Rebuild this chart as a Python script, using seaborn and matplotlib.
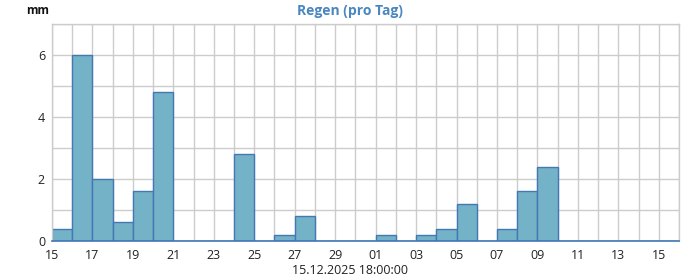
import matplotlib
matplotlib.use("Agg")
import matplotlib.pyplot as plt
import seaborn as sns
import pandas as pd
import numpy as np

days = ["15","16","17","18","19","20","21","22","23","24","25","26","27","28","29","30",
        "01","02","03","04","05","06","07","08","09","10","11","12","13","14","15"]
rain = [0.4, 6.0, 2.0, 0.6, 1.6, 4.8, 0.0, 0.0, 0.0, 2.8, 0.0, 0.2, 0.8, 0.0, 0.0, 0.0,
        0.2, 0.0, 0.2, 0.4, 1.2, 0.0, 0.4, 1.6, 2.4, 0.0, 0.0, 0.0, 0.0, 0.0, 0.0]
title = "Regen (pro Tag)"
unit = "mm"
date_label = "15.12.2025 18:00:00"

sns.set_style("white")
plt.rcParams['font.family'] = ['Open Sans', 'DejaVu Sans']

df = pd.DataFrame({"idx": np.arange(len(days)) + 0.5, "rain": rain})

fig = plt.figure(figsize=(7, 2.8), dpi=100)
ax = fig.add_axes([52/700, 39/280, 627/700, 217/280])

sns.histplot(data=df, x="idx", weights="rain", bins=len(days), binrange=(0, len(days)),
             color="#74b2c7", edgecolor="#4278b4", linewidth=1.0, alpha=1.0, ax=ax)

ax.set_xlim(0, len(days))
ax.set_ylim(0, 7)
ax.set_xticks(np.arange(0, len(days), 2))
ax.set_xticklabels([days[i] for i in range(0, len(days), 2)])
ax.set_xticks(np.arange(0, len(days) + 1), minor=True)
ax.set_yticks([0, 2, 4, 6])
ax.set_yticks(np.arange(0, 8), minor=True)
ax.grid(True, which="both", color="#cccccc", linewidth=1.0)
ax.set_axisbelow(True)
ax.tick_params(which="both", length=0, labelsize=9, colors="#222222")
ax.tick_params(axis="x", pad=6)
ax.tick_params(axis="y", pad=5)
ax.set_xlabel("")
ax.set_ylabel("")
for s in ["top", "right", "left"]:
    ax.spines[s].set_color("#cccccc")
    ax.spines[s].set_linewidth(1.0)
ax.spines["bottom"].set_color("#4278b4")
ax.spines["bottom"].set_linewidth(1.2)

fig.text(0.5, 1 - 11/280, title, ha="center", va="center", fontsize=10,
         fontweight="bold", color="#4a86c0")
fig.text(38/700, 1 - 11/280, unit, ha="center", va="center", fontsize=8.5,
         fontweight="bold", color="#111111")
fig.text(0.5, 1 - 270/280, date_label, ha="center", va="center", fontsize=9,
         color="#222222")

fig.savefig("out.png", dpi=100)
